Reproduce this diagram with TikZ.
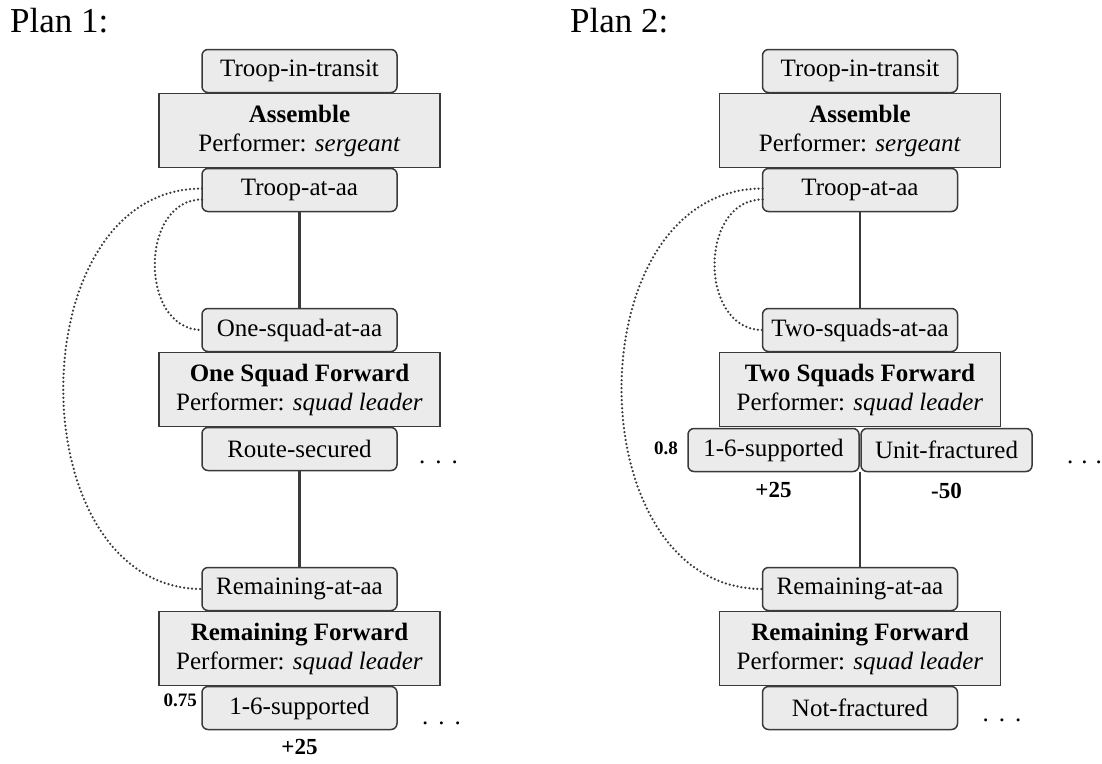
\documentclass[tikz,border=0pt]{standalone}
\usepackage{fontspec}
\setmainfont{Liberation Serif}
\usepackage{tikz}
\usetikzlibrary{positioning,calc}
\definecolor{boxfill}{HTML}{EBEBEB}
\definecolor{boxline}{HTML}{3A3A3A}

\begin{document}
\begin{tikzpicture}[x=1pt, y=-1pt,
  cond/.style={rectangle, rounded corners=6pt, draw=boxline, fill=boxfill, line width=1.5pt,
               minimum width=195pt, minimum height=43pt, inner sep=0pt, outer sep=0pt,
               font=\fontsize{25}{29}\selectfont},
  task/.style={rectangle, draw=boxline, fill=boxfill, line width=1.5pt,
               minimum width=281pt, minimum height=74pt, align=center,
               inner sep=0pt, outer sep=0pt, font=\fontsize{25}{29}\selectfont},
  link/.style={line width=2.2pt, draw=boxline},
  back/.style={line width=2.5pt, draw=boxline, dash pattern=on 0pt off 4pt, line cap=round},
  prob/.style={font=\bfseries\fontsize{19}{19}\selectfont, inner sep=0pt},
  rew/.style={font=\bfseries\fontsize{23}{23}\selectfont, inner sep=0pt},
  more/.style={font=\fontsize{25}{25}\selectfont, inner sep=0pt},
  title/.style={font=\fontsize{35}{35}\selectfont, inner sep=0pt, anchor=base west},
]
\useasboundingbox (0,0) rectangle (1102,763);

\node[title] (plan1) at (10,32) {Plan 1:};
\node[title] (plan2) at (570,32) {Plan 2:};

% plan 1
\node[cond] (transit1) at (299.5,71) {Troop-in-transit};
\node[task, below=1pt of transit1] (assemble1)
      {\textbf{Assemble}\\Performer: \textit{sergeant}};
\node[cond, below=1pt of assemble1] (atAA1) {Troop-at-aa};
\node[cond, below=97pt of atAA1] (oneAA) {One-squad-at-aa};
\node[task, below=1pt of oneAA] (oneFwd)
      {\textbf{One Squad Forward}\\Performer: \textit{squad leader}};
\node[cond, below=1pt of oneFwd] (route) {Route-secured};
\node[cond, below=97pt of route] (remAA1) {Remaining-at-aa};
\node[task, below=1pt of remAA1] (remFwd1)
      {\textbf{Remaining Forward}\\Performer: \textit{squad leader}};
\node[cond, below=1pt of remFwd1] (supp1) {1-6-supported};

\node[prob, anchor=east] (prob1) at ([xshift=-5pt, yshift=8pt]supp1.west) {0.75};
\node[rew, below=10pt of supp1] (rew1) {+25};
\node[more, anchor=west] (more1) at ([xshift=22pt, yshift=-13pt]route.east)
      {.\hspace{10pt}.\hspace{10pt}.};
\node[more, anchor=west] (more2) at ([xshift=25pt, yshift=-15pt]supp1.east)
      {.\hspace{10pt}.\hspace{10pt}.};

\draw[link] (atAA1) -- (oneAA);
\draw[link] (route) -- (remAA1);
\draw[back] ([yshift=1.5pt]atAA1.west) .. controls +(-185,0) and +(-185,0) .. (remAA1.west);
\draw[back] ([yshift=-9.5pt]atAA1.west) .. controls +(-63,0) and +(-63,0) .. (oneAA.west);

% plan 2
\node[cond] (transit2) at (860,71) {Troop-in-transit};
\node[task, below=1pt of transit2] (assemble2)
      {\textbf{Assemble}\\Performer: \textit{sergeant}};
\node[cond, below=1pt of assemble2] (atAA2) {Troop-at-aa};
\node[cond, below=97pt of atAA2] (twoAA) {Two-squads-at-aa};
\node[task, below=1pt of twoAA] (twoFwd)
      {\textbf{Two Squads Forward}\\Performer: \textit{squad leader}};
\node[cond, minimum width=171pt, anchor=north east] (supp2)
      at ([xshift=-1pt, yshift=-2pt]twoFwd.south) {1-6-supported};
\node[cond, minimum width=171pt, anchor=north west] (fract)
      at ([xshift=1pt, yshift=-2pt]twoFwd.south) {Unit-fractured};
\node[cond] (remAA2) at (transit2 |- remAA1) {Remaining-at-aa};
\node[task, below=1pt of remAA2] (remFwd2)
      {\textbf{Remaining Forward}\\Performer: \textit{squad leader}};
\node[cond, below=1pt of remFwd2] (notFract) {Not-fractured};

\node[prob, anchor=east] (prob2) at ([xshift=-10pt, yshift=2pt]supp2.west) {0.8};
\node[rew, below=11pt of supp2] (rew2) {+25};
\node[rew, below=11pt of fract] (rew3) {-50};
\node[more, anchor=west] (more3) at ([xshift=35pt, yshift=-12pt]fract.east)
      {.\hspace{8pt}.\hspace{8pt}.};
\node[more, anchor=west] (more4) at ([xshift=25pt, yshift=-12pt]notFract.east)
      {.\hspace{10pt}.\hspace{10pt}.};

\draw[link] (atAA2) -- (twoAA);
\draw[link] (remAA2.north |- supp2.south) -- (remAA2.north);
\draw[back] ([yshift=1.5pt]atAA2.west) .. controls +(-188,0) and +(-188,0) .. (remAA2.west);
\draw[back] ([yshift=-9.5pt]atAA2.west) .. controls +(-64,0) and +(-64,0) .. (twoAA.west);
\end{tikzpicture}
\end{document}
